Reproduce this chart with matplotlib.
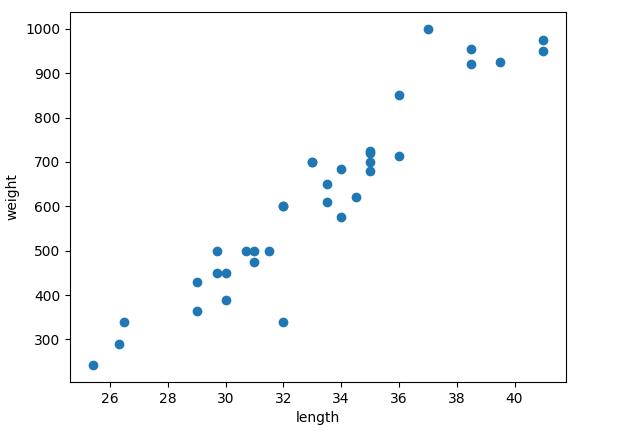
import matplotlib
matplotlib.use("Agg")
from matplotlib import pyplot as plt

bream_length = [25.4, 26.3, 26.5, 29.0, 29.0, 29.7, 29.7, 30.0, 30.0, 30.7, 31.0, 31.0,
                31.5, 32.0, 32.0, 32.0, 33.0, 33.0, 33.5, 33.5, 34.0, 34.0, 34.5, 35.0,
                35.0, 35.0, 35.0, 36.0, 36.0, 37.0, 38.5, 38.5, 39.5, 41.0, 41.0]
bream_weight = [242.0, 290.0, 340.0, 363.0, 430.0, 450.0, 500.0, 390.0, 450.0, 500.0, 475.0, 500.0,
                500.0, 340.0, 600.0, 600.0, 700.0, 700.0, 610.0, 650.0, 575.0, 685.0, 620.0, 680.0,
                700.0, 725.0, 720.0, 714.0, 850.0, 1000.0, 920.0, 955.0, 925.0, 975.0, 950.0]

fig = plt.figure(figsize=(6.19, 4.36), dpi=100)
fig.subplots_adjust(left=70/619, right=566/619, bottom=54/436, top=1-12/436)
plt.scatter(bream_length, bream_weight)
plt.xlabel("length")
plt.ylabel("weight")
plt.savefig("out.png")
